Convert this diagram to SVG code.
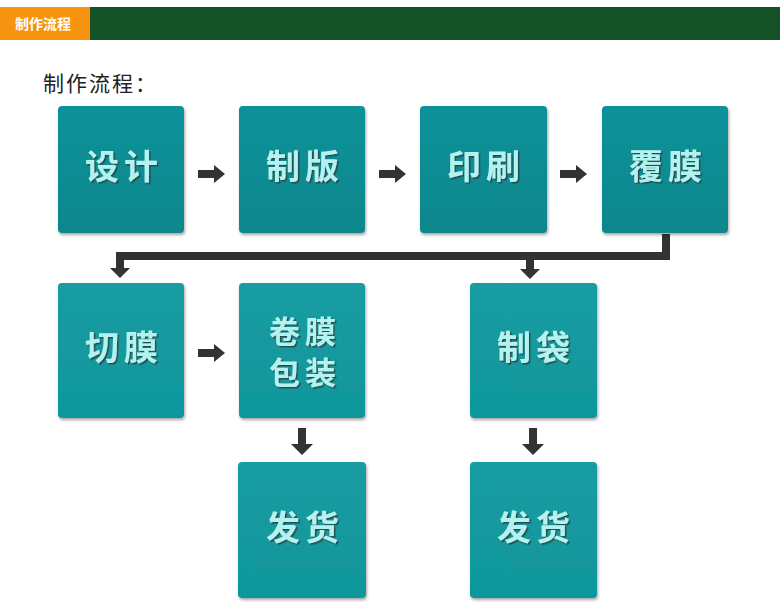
<svg xmlns="http://www.w3.org/2000/svg" width="780" height="609" viewBox="0 0 780 609">
<style>
.box{stroke:none;filter:url(#bs)}
.r1{fill:url(#g1)}
.r2{fill:url(#g2)}
.lbl{font-family:"Noto Sans CJK SC","Noto Sans CJK JP",sans-serif;font-weight:700;font-size:34px;fill:#b4f2f0;text-anchor:middle;letter-spacing:5px;filter:url(#ts)}
.sm{font-size:31px}
.arr{fill:#333333}
</style>
<defs>
<linearGradient id="g1" x1="0" y1="0" x2="0" y2="1"><stop offset="0" stop-color="#10929a"/><stop offset="1" stop-color="#0d878c"/></linearGradient>
<linearGradient id="g2" x1="0" y1="0" x2="0" y2="1"><stop offset="0" stop-color="#139ca1"/><stop offset="1" stop-color="#11979c"/></linearGradient>
<filter id="bs" x="-10%" y="-10%" width="120%" height="125%"><feDropShadow dx="1" dy="2" stdDeviation="1.5" flood-color="#000" flood-opacity="0.35"/></filter>
<filter id="ts" x="-10%" y="-20%" width="120%" height="140%"><feDropShadow dx="1.5" dy="1.5" stdDeviation="0.5" flood-color="#2a3a3a" flood-opacity="0.8"/></filter>
</defs>
<rect width="780" height="609" fill="#ffffff"/>
<g id="header">
<rect x="0" y="7" width="90" height="33" fill="#f7930e"/>
<rect x="90" y="7" width="690" height="33" fill="#145127"/>
<text x="15" y="29" font-family="Noto Sans CJK SC,sans-serif" font-weight="700" font-size="14" fill="#ffffff">制作流程</text>
</g>
<text id="title" x="43" y="91" font-family="Noto Sans CJK SC,sans-serif" font-size="21" fill="#222222" letter-spacing="2">制作流程：</text>
<g id="connectors">
<polygon class="arr" points="198,170 214,170 214,165 225,174 214,183 214,178 198,178"/>
<polygon class="arr" points="379,170 395,170 395,165 406,174 395,183 395,178 379,178"/>
<polygon class="arr" points="560,170 576,170 576,165 587,174 576,183 576,178 560,178"/>
<polygon class="arr" points="662,234 670,234 670,260 124,260 124,268 130,268 120,278 110,268 116,268 116,252 662,252"/>
<polygon class="arr" points="526,260 534,260 534,269 540,269 530,279 520,269 526,269"/>
<polygon class="arr" points="198,349 214,349 214,344 225,353 214,362 214,357 198,357"/>
<polygon class="arr" points="298,428 306,428 306,444 313,444 302,455 291,444 298,444"/>
<polygon class="arr" points="529,428 537,428 537,444 544,444 533,455 522,444 529,444"/>
</g>
<g id="n-design"><rect class="box r1" x="58" y="106" width="126" height="127" rx="4"/><text class="lbl" x="124" y="179">设计</text></g>
<g id="n-plate"><rect class="box r1" x="239" y="106" width="126" height="127" rx="4"/><text class="lbl" x="305" y="179">制版</text></g>
<g id="n-print"><rect class="box r1" x="420" y="106" width="127" height="127" rx="4"/><text class="lbl" x="486" y="179">印刷</text></g>
<g id="n-laminate"><rect class="box r1" x="602" y="106" width="126" height="127" rx="4"/><text class="lbl" x="668" y="179">覆膜</text></g>
<g id="n-cut"><rect class="box r2" x="58" y="283" width="126" height="135" rx="4"/><text class="lbl" x="124" y="360">切膜</text></g>
<g id="n-roll"><rect class="box r2" x="239" y="283" width="126" height="135" rx="4"/><text class="lbl sm" x="305" y="343">卷膜</text><text class="lbl sm" x="305" y="384">包装</text></g>
<g id="n-bag"><rect class="box r2" x="470" y="283" width="127" height="135" rx="4"/><text class="lbl" x="536" y="360">制袋</text></g>
<g id="n-ship1"><rect class="box r2" x="238" y="462" width="128" height="136" rx="4"/><text class="lbl" x="305" y="540">发货</text></g>
<g id="n-ship2"><rect class="box r2" x="470" y="462" width="127" height="136" rx="4"/><text class="lbl" x="536" y="540">发货</text></g>
</svg>
